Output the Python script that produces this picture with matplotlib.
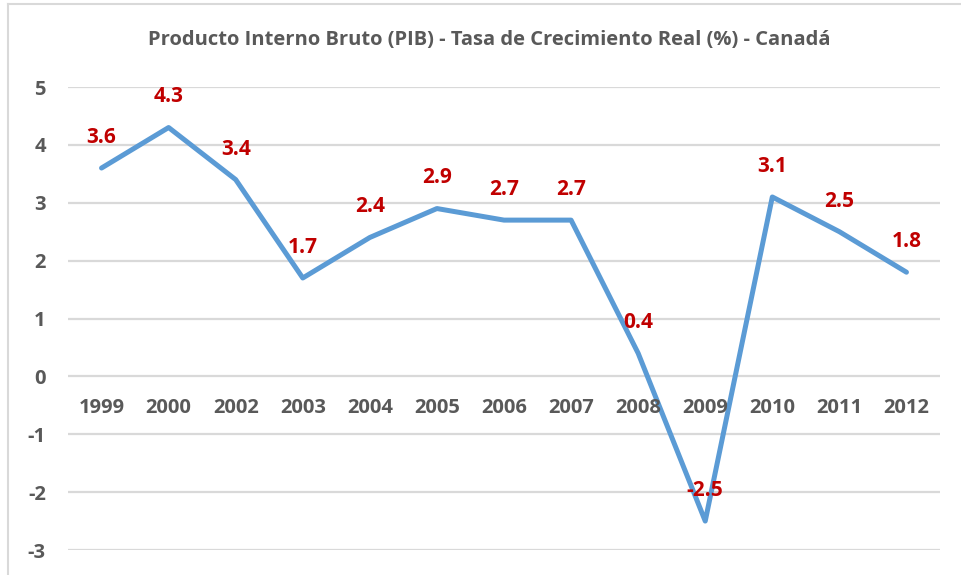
import matplotlib.pyplot as plt
from matplotlib.lines import Line2D

# data
years = ["1999", "2000", "2002", "2003", "2004", "2005", "2006",
         "2007", "2008", "2009", "2010", "2011", "2012"]
growth = [3.6, 4.3, 3.4, 1.7, 2.4, 2.9, 2.7, 2.7, 0.4, -2.5, 3.1, 2.5, 1.8]
y_ticks = [-3, -2, -1, 0, 1, 2, 3, 4, 5]

plt.rcParams['font.family'] = ['Open Sans', 'DejaVu Sans']
gray = "#595959"

fig = plt.figure(figsize=(9.61, 5.75), dpi=100)
ax = fig.add_axes([68/961, 1-550/575, (940-68)/961, (550-87)/575])

x = list(range(len(years)))
ax.plot(x, growth, color="#5B9BD5", lw=3.6, solid_joinstyle="round",
        solid_capstyle="round", zorder=3)

# data labels
for xi, v in zip(x, growth):
    ax.annotate(f"{v:.1f}", (xi, v), xytext=(0, 22), textcoords="offset points",
                ha="center", va="center", color="#C00000",
                fontsize=15, fontweight="bold", zorder=4)

# category labels sit just under the zero line
for xi, lab in zip(x, years):
    ax.annotate(lab, (xi, 0), xytext=(0, -23), textcoords="offset points",
                ha="center", va="center", color=gray,
                fontsize=14.5, fontweight="bold")

ax.set_xlim(-0.5, len(years) - 0.5)
ax.set_ylim(-3, 5)
ax.set_yticks(y_ticks)
ax.set_yticklabels([str(t) for t in y_ticks], color=gray,
                   fontsize=14.5, fontweight="bold")
ax.set_xticks([])
ax.tick_params(axis="y", length=0, pad=16)
ax.yaxis.grid(True, color="#D9D9D9", lw=1.6)
ax.set_axisbelow(True)
for s in ax.spines.values():
    s.set_visible(False)

fig.text(489/961, 1-40/575, "Producto Interno Bruto (PIB) - Tasa de Crecimiento Real (%) - Canadá",
         ha="center", va="center", color=gray, fontsize=14.5, fontweight="bold")

# outer chart frame (only top and left visible)
fig.add_artist(Line2D([8/961, 1], [1-4/575, 1-4/575], transform=fig.transFigure,
                      color="#D9D9D9", lw=1.5))
fig.add_artist(Line2D([8/961, 8/961], [0, 1-4/575], transform=fig.transFigure,
                      color="#D9D9D9", lw=1.5))

fig.savefig("out.png", dpi=100)
